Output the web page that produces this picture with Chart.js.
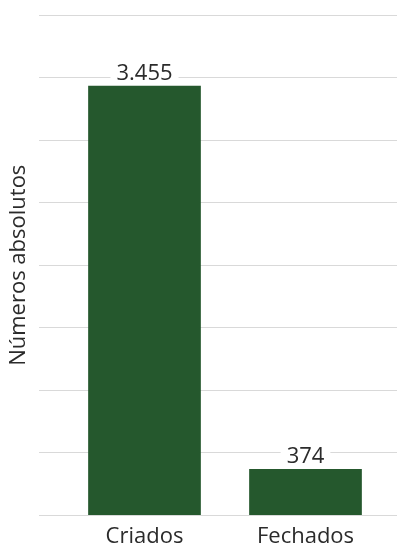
<!DOCTYPE html>
<html lang="pt">
<head>
<meta charset="utf-8">
<script src="https://cdn.jsdelivr.net/npm/chart.js@4"></script>
<style>
  html, body { margin: 0; padding: 0; background: #fff; }
  #wrap { width: 397px; height: 546px; position: relative; }
</style>
</head>
<body>
<div id="wrap"><canvas id="chart"></canvas></div>
<script>
// ---------- Data -------------------------------------------------------
const categories = ["Criados", "Fechados"];
const values = [3455, 374];
const yTitle = "Números absolutos";
const Y_MAX = 4024;   // unlabeled grid, 8 equal steps
const Y_STEP = 503;

const FONT = "'Open Sans', 'Noto Sans', sans-serif";
const BAR = "#25582d";
const GRID = "#d9d9d9";
const TEXT = "#2b2b2b";

// value labels above bars, white box knocks out the grid line behind
const valueLabels = {
  id: "valueLabels",
  afterDatasetsDraw(chart) {
    const { ctx } = chart;
    const meta = chart.getDatasetMeta(0);
    ctx.save();
    ctx.font = "22px " + FONT;
    ctx.textAlign = "center";
    ctx.textBaseline = "alphabetic";
    meta.data.forEach((bar, i) => {
      const txt = values[i].toLocaleString("pt-BR");
      const w = ctx.measureText(txt).width;
      const y = bar.y - 6;
      ctx.fillStyle = "#fff";
      ctx.fillRect(bar.x - w / 2 - 6, y - 20, w + 12, 24);
      ctx.fillStyle = TEXT;
      ctx.fillText(txt, bar.x, y);
    });
    ctx.restore();
  },
};

new Chart(document.getElementById("chart"), {
  type: "bar",
  data: {
    labels: categories,
    datasets: [{
      data: values,
      backgroundColor: BAR,
      borderWidth: 0,
      categoryPercentage: 1,
      barPercentage: 0.7,
    }],
  },
  options: {
    responsive: true,
    maintainAspectRatio: false,
    animation: false,
    layout: { padding: { top: 15, left: 0, right: 0, bottom: 0 } },
    plugins: { legend: { display: false }, tooltip: { enabled: false } },
    scales: {
      x: {
        grid: { display: false, drawTicks: false },
        border: { display: false },
        ticks: { color: TEXT, padding: 10, font: { family: FONT, size: 22, lineHeight: 1 } },
        afterFit: scale => { scale.height = 30.5; },
      },
      y: {
        min: 0, max: Y_MAX,
        border: { display: false },
        grid: { color: GRID, lineWidth: 1, tickLength: 25, tickColor: GRID },
        ticks: { display: false, stepSize: Y_STEP },
        title: {
          display: true,
          text: yTitle,
          color: TEXT,
          padding: { top: 6, bottom: 6.6 },
          font: { family: FONT, size: 22 },
        },
      },
      y2: {
        position: "right",
        min: 0, max: Y_MAX,
        border: { display: false },
        grid: { drawOnChartArea: false, tickLength: 11, tickColor: GRID, color: GRID },
        ticks: { display: false, stepSize: Y_STEP },
      },
    },
  },
  plugins: [valueLabels],
});
</script>
</body>
</html>
